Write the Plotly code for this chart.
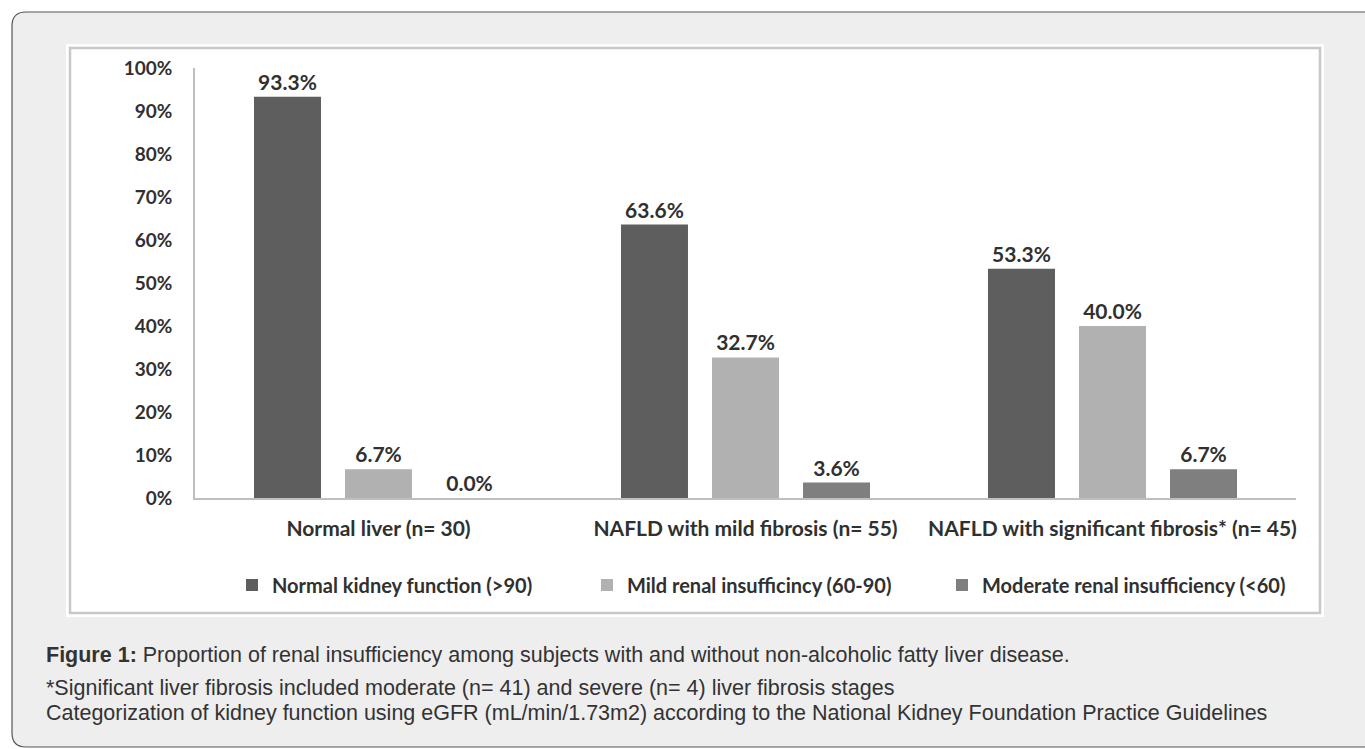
import plotly.graph_objects as go

categories = ["Normal liver (n= 30)", "NAFLD with mild fibrosis (n= 55)",
              "NAFLD with significant fibrosis* (n= 45)"]
series_names = ["Normal kidney function (>90)", "Mild renal insufficincy (60-90)",
                "Moderate renal insufficiency (<60)"]
normal_kidney = [93.3, 63.6, 53.3]
mild_renal = [6.7, 32.7, 40.0]
moderate_renal = [0.0, 3.6, 6.7]
y_ticks = [0, 10, 20, 30, 40, 50, 60, 70, 80, 90, 100]
y_ticklabels = [f"{v}%" for v in y_ticks]

colors = ["#5e5e5e", "#b1b1b1", "#7f7f7f"]

W, H = 1365, 749
L_PX, R_PX, T_PX, B_PX = 195, 1296, 68, 498

def px(x):
    return (x - L_PX) / (R_PX - L_PX)

def py(y):
    return (B_PX - y) / (B_PX - T_PX)

fig = go.Figure()
for name, vals, col in zip(series_names, [normal_kidney, mild_renal, moderate_renal], colors):
    fig.add_trace(go.Bar(
        x=categories, y=vals, name=name, marker=dict(color=col, line=dict(width=0)),
        texttemplate="%{y:.1f}%", textposition="outside", cliponaxis=False,
        textfont=dict(family="Lato", size=21, color="#303030", weight="bold"),
    ))

# Background shapes: outer rounded box and inner white panel
Lb, Tb, Rb, Bb, r = 12, 12, 1400, 747, 14
path = (f"M {px(Lb)},{py(Tb + r)} Q {px(Lb)},{py(Tb)} {px(Lb + r)},{py(Tb)} "
        f"L {px(Rb)},{py(Tb)} L {px(Rb)},{py(Bb)} L {px(Lb + r)},{py(Bb)} "
        f"Q {px(Lb)},{py(Bb)} {px(Lb)},{py(Bb - r)} Z")
shapes = [
    dict(type="path", path=path, xref="paper", yref="paper", layer="below",
         fillcolor="#eeeeee", line=dict(color="#555555", width=1.2)),
    dict(type="rect", xref="paper", yref="paper", layer="below",
         x0=px(67), x1=px(1323), y0=py(45), y1=py(616),
         fillcolor="#ffffff", line=dict(color="#ffffff", width=2)),
    dict(type="rect", xref="paper", yref="paper", layer="below",
         x0=px(70), x1=px(1320), y0=py(48), y1=py(613),
         fillcolor="#ffffff", line=dict(color="#c8c8c8", width=2.5)),
]

cap_font = dict(family="Liberation Sans, Arial", size=21.5, color="#333333")
annotations = [
    dict(text="<b>Figure 1:</b> Proportion of renal insufficiency among subjects with and without non-alcoholic fatty liver disease.",
         xref="paper", yref="paper", x=px(44), y=py(655), xanchor="left", yanchor="middle",
         showarrow=False, font=cap_font),
    dict(text="*Significant liver fibrosis included moderate (n= 41) and severe (n= 4) liver fibrosis stages",
         xref="paper", yref="paper", x=px(44), y=py(688), xanchor="left", yanchor="middle",
         showarrow=False, font=cap_font),
    dict(text="Categorization of kidney function using eGFR (mL/min/1.73m2) according to the National Kidney Foundation Practice Guidelines",
         xref="paper", yref="paper", x=px(44), y=py(712.5), xanchor="left", yanchor="middle",
         showarrow=False, font=cap_font),
]

fig.update_layout(
    width=W, height=H,
    margin=dict(l=L_PX, r=W - R_PX, t=T_PX, b=H - B_PX, pad=0),
    paper_bgcolor="#ffffff", plot_bgcolor="rgba(0,0,0,0)",
    barmode="group", bargap=0.256, bargroupgap=0.264,
    shapes=shapes, annotations=annotations,
    showlegend=True,
    legend=dict(orientation="h", x=px(232), y=py(585), xanchor="left", yanchor="middle",
                entrywidth=310, entrywidthmode="pixels",
                font=dict(family="Lato", size=20, color="#303030", weight="bold"),
                bgcolor="rgba(0,0,0,0)", itemclick=False),
    xaxis=dict(showgrid=False, showline=True, linecolor="#bfbfbf", linewidth=1.5,
               ticks="", range=[-0.5, 2.5], ticklabelstandoff=11,
               tickfont=dict(family="Lato", size=21, color="#303030", weight="bold")),
    yaxis=dict(range=[0, 100], showgrid=False, zeroline=False, showline=True,
               linecolor="#bfbfbf", linewidth=1.5, ticks="",
               tickvals=y_ticks, ticktext=y_ticklabels, ticklabelstandoff=17,
               tickfont=dict(family="Lato", size=19, color="#303030", weight="bold")),
)

fig.write_html("out.html")
